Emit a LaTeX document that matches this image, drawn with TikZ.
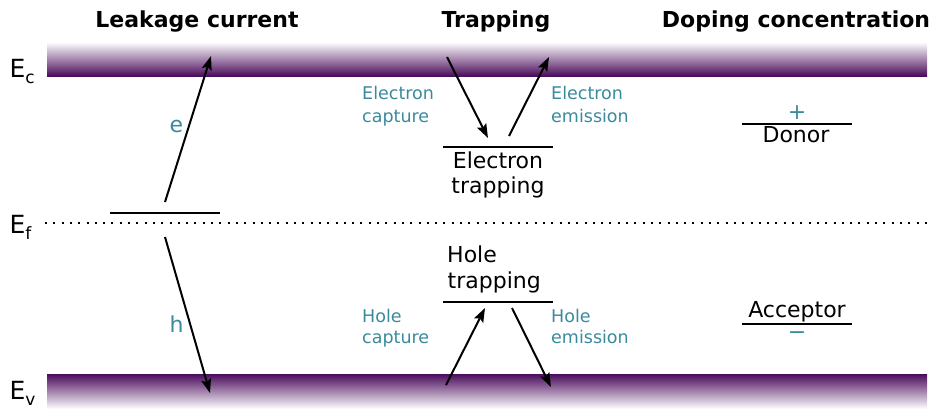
\documentclass[tikz,border=0pt]{standalone}
\usepackage{fontspec}
\setmainfont{DejaVu Sans}
\usetikzlibrary{arrows.meta}
\definecolor{bandpurple}{HTML}{4A0C5C}
\definecolor{tealtxt}{HTML}{3A8A9E}
\begin{document}
\begin{tikzpicture}[x=1pt,y=-1pt,
  title/.style={font=\fontsize{22}{26}\selectfont\bfseries, anchor=base, inner sep=0pt},
  lbl/.style={font=\fontsize{22}{26}\selectfont, anchor=base, inner sep=0pt},
  lblw/.style={font=\fontsize{22}{26}\selectfont, anchor=base west, inner sep=0pt},
  small/.style={font=\fontsize{17.5}{22}\selectfont, text=tealtxt, anchor=base west, inner sep=0pt},
  carrier/.style={font=\fontsize{22}{26}\selectfont, text=tealtxt, anchor=base, inner sep=0pt},
  sign/.style={font=\fontsize{22}{26}\selectfont, text=tealtxt, anchor=center, inner sep=0pt},
  band/.style={font=\fontsize{25}{25}\selectfont, anchor=base west, inner sep=0pt},
  level/.style={line width=2pt},
  arr/.style={line width=2pt, -{Stealth[length=14pt,width=10pt,inset=2.5pt]}},
  fermi/.style={line width=2pt, dash pattern=on 2pt off 6.3pt},
]
\useasboundingbox (0,0) rectangle (933,408);

% bands
\shade[top color=white, bottom color=bandpurple] (47,42) rectangle (927,76);
\shade[top color=bandpurple, bottom color=white] (47,374) rectangle (927,409);

% titles
\node[title] (t1) at (197,27) {Leakage current};
\node[title] (t2) at (496,27) {Trapping};
\node[title] (t3) at (796,27) {Doping concentration};

% band labels
\node[band] (Ec) at (9.5,77) {E\raisebox{-6pt}{\fontsize{17}{17}\selectfont c}};
\node[band] (Ef) at (9.5,233) {E\raisebox{-6pt}{\fontsize{17}{17}\selectfont f}};
\node[band] (Ev) at (9.5,399) {E\raisebox{-6pt}{\fontsize{17}{17}\selectfont v}};

% Fermi level
\coordinate (fL) at (45,223);
\coordinate (fR) at (927,223);
\draw[fermi] (fL) -- (fR);

% leakage current
\coordinate (lkL) at (110,213);
\coordinate (lkR) at (220,213);
\draw[level] (lkL) -- (lkR);
\coordinate (eS) at (165,202);
\coordinate (eE) at (211,56);
\draw[arr] (eS) -- (eE);
\node[carrier] (ce) at (176.5,132) {e};
\coordinate (hS) at (165,237);
\coordinate (hE) at (210,393);
\draw[arr] (hS) -- (hE);
\node[carrier] (ch) at (176.5,332) {h};

% electron trapping
\coordinate (etL) at (443,147);
\coordinate (etR) at (553,147);
\draw[level] (etL) -- (etR);
\coordinate (ecS) at (447,57);
\coordinate (ecE) at (488,138);
\draw[arr] (ecS) -- (ecE);
\coordinate (eeS) at (509,136);
\coordinate (eeE) at (549,57);
\draw[arr] (eeS) -- (eeE);
\node[lbl] (et1) at (498,168) {Electron};
\node[lbl] (et2) at (498,193) {trapping};
\node[small] (ec1) at (362,99) {Electron};
\node[small] (ec2) at (362,122) {capture};
\node[small] (ee1) at (551,99) {Electron};
\node[small] (ee2) at (551,122) {emission};

% hole trapping
\coordinate (htL) at (443,302);
\coordinate (htR) at (553,302);
\draw[level] (htL) -- (htR);
\coordinate (hcS) at (446,385);
\coordinate (hcE) at (485,308);
\draw[arr] (hcS) -- (hcE);
\coordinate (heS) at (512,308);
\coordinate (heE) at (551,387);
\draw[arr] (heS) -- (heE);
\node[lblw] (ht1) at (447,262) {Hole};
\node[lblw] (ht2) at (447.5,288) {trapping};
\node[small] (hc1) at (362,322) {Hole};
\node[small] (hc2) at (362,343) {capture};
\node[small] (he1) at (551,322) {Hole};
\node[small] (he2) at (551,343) {emission};

% doping
\coordinate (dL) at (742,124);
\coordinate (dR) at (852,124);
\draw[level] (dL) -- (dR);
\node[sign] (plus) at (797,113) {+};
\node[lbl] (donor) at (796,142) {Donor};
\coordinate (aL) at (742,324);
\coordinate (aR) at (852,324);
\draw[level] (aL) -- (aR);
\node[lbl] (acc) at (797,317) {Acceptor};
\node[sign] (minus) at (797,336) {−};
\end{tikzpicture}
\end{document}
